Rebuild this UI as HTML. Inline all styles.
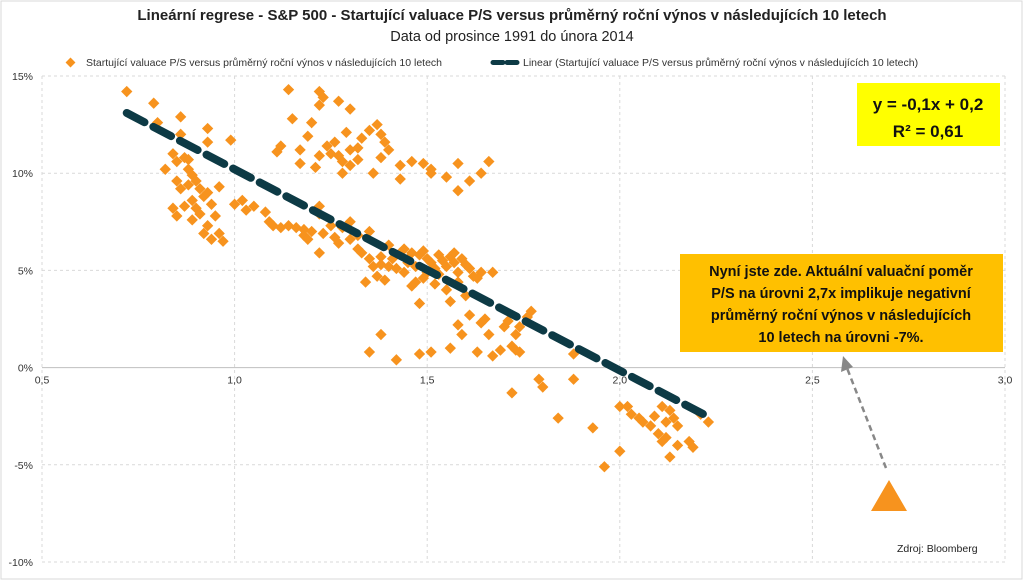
<!DOCTYPE html>
<html><head><meta charset="utf-8">
<style>
body{margin:0;background:#fff;width:1023px;height:580px;overflow:hidden;font-family:"Liberation Sans",sans-serif;}
svg text{font-family:"Liberation Sans","DejaVu Sans",sans-serif;}
</style></head>
<body>
<svg id="chart" width="1023" height="580" xmlns="http://www.w3.org/2000/svg">
<rect x="1" y="1" width="1021" height="578" fill="#fff" stroke="#d9d9d9"/>
<text x="512" y="20" text-anchor="middle" font-size="15" font-weight="bold" fill="#222">Lineární regrese - S&amp;P 500 - Startující valuace P/S versus průměrný roční výnos v následujících 10 letech</text>
<text x="512" y="41" text-anchor="middle" font-size="14.5" fill="#222">Data od prosince 1991 do února 2014</text>
<g>
<g>
<rect x="67" y="59" width="7" height="7" fill="#f7931e" transform="rotate(45 70.5 62.5)"/>
<text x="86" y="66" font-size="10.5" fill="#333">Startující valuace P/S versus průměrný roční výnos v následujících 10 letech</text>
</g>
<g>
<line x1="493" y1="62.5" x2="521" y2="62.5" stroke="#0d3a45" stroke-width="5" stroke-dasharray="10,4" stroke-linecap="round"/>
<text x="523" y="66" font-size="10.5" fill="#333">Linear (Startující valuace P/S versus průměrný roční výnos v následujících 10 letech)</text>
</g>
</g>
<g id="grid"></g>
<g id="axes"></g>
<g id="points"></g>
<g id="trend"></g>
<g>
<rect x="857" y="83" width="143" height="63" fill="#ffff00"/>
<text x="928" y="110" text-anchor="middle" font-size="17" font-weight="bold" fill="#111">y = -0,1x + 0,2</text>
<text x="928" y="137" text-anchor="middle" font-size="17" font-weight="bold" fill="#111">R² = 0,61</text>
</g>
<g>
<rect x="680" y="254" width="323" height="98" fill="#ffc000"/>
<text x="841" y="276" text-anchor="middle" font-size="14.5" font-weight="bold" fill="#111">Nyní jste zde. Aktuální valuační poměr</text>
<text x="841" y="298" text-anchor="middle" font-size="14.5" font-weight="bold" fill="#111">P/S na úrovni 2,7x implikuje negativní</text>
<text x="841" y="320" text-anchor="middle" font-size="14.5" font-weight="bold" fill="#111">průměrný roční výnos v následujících</text>
<text x="841" y="342" text-anchor="middle" font-size="14.5" font-weight="bold" fill="#111">10 letech na úrovni -7%.</text>
</g>
<g>
<line x1="886" y1="468" x2="847" y2="368" stroke="#888" stroke-width="2.5" stroke-dasharray="6,4"/>
<polygon points="843,356 841,372 853,367" fill="#888"/>
</g>
<polygon points="889,480 871,511 907,511" fill="#f7931e"/>
<text x="897" y="552" font-size="10.5" fill="#222">Zdroj: Bloomberg</text>
</svg>
<script>
const xTicks=[0.5,1.0,1.5,2.0,2.5,3.0];
const xTickLabels=["0,5","1,0","1,5","2,0","2,5","3,0"];
const yTicks=[15,10,5,0,-5,-10];
const yTickLabels=["15%","10%","5%","0%","-5%","-10%"];
const psX=[0.72,0.79,0.80,0.86,0.86,0.93,0.93,0.99,0.84,0.82,0.85,0.87,0.88,0.89,0.85,0.86,0.88,0.90,0.91,0.92,0.89,0.87,0.90,0.93,0.94,0.85,0.89,0.91,0.93,0.95,0.92,0.94,0.96,0.97,0.84,0.96,0.88,
1.00,1.02,1.03,1.05,1.08,1.09,1.10,1.12,1.14,1.16,1.18,1.18,1.19,1.20,1.22,1.22,1.23,1.25,1.26,1.27,1.28,1.22,1.30,1.32,1.33,1.35,1.36,1.38,1.39,1.34,1.37,1.32,1.35,1.40,1.30,
1.14,1.22,1.23,1.22,1.27,1.30,1.20,1.15,1.37,1.35,1.38,1.40,1.32,1.33,1.29,1.26,1.24,1.25,1.27,1.28,1.30,1.30,1.32,1.28,1.22,1.17,1.11,1.12,1.17,1.21,1.38,1.43,1.46,1.49,1.51,1.55,1.58,1.58,1.61,1.64,1.66,1.43,1.51,1.19,1.36,1.39,
1.41,1.43,1.44,1.45,1.46,1.47,1.48,1.49,1.50,1.51,1.52,1.50,1.49,1.47,1.44,1.42,1.53,1.54,1.55,1.56,1.57,1.58,1.59,1.60,1.61,1.62,1.64,1.63,1.67,1.58,1.52,1.53,1.55,1.56,1.60,1.45,1.40,1.48,1.38,1.57,1.46,
1.35,1.38,1.42,1.51,1.56,1.59,1.63,1.66,1.67,1.71,1.73,1.70,1.74,1.72,1.74,1.73,1.58,1.61,1.64,1.48,1.69,1.65,1.88,1.76,1.77,
1.72,1.79,1.80,1.88,1.84,1.93,1.96,2.00,2.02,2.03,2.00,2.06,2.08,2.09,2.10,2.11,2.12,2.13,2.14,2.15,2.12,2.15,2.18,2.19,2.13,2.21,2.23,2.05,2.11];
const returnY=[14.2,13.6,12.6,12.9,12.0,12.3,11.6,11.7,11.0,10.2,10.6,10.8,10.2,9.9,9.6,9.2,9.4,9.6,9.2,8.8,8.6,8.3,8.2,9.0,8.4,7.8,7.6,7.9,7.3,7.8,6.9,6.6,6.9,6.5,8.2,9.3,10.7,
8.4,8.6,8.1,8.3,8.0,7.5,7.3,7.2,7.3,7.2,7.1,6.8,6.6,7.0,8.3,7.9,6.9,7.3,6.7,6.4,7.2,5.9,6.6,6.1,5.9,5.6,5.2,5.7,4.5,4.4,4.7,6.8,7.0,6.3,7.5,
14.3,14.2,13.9,13.5,13.7,13.3,12.6,12.8,12.5,12.2,12.0,11.2,11.3,11.8,12.1,11.6,11.4,11.0,10.9,10.6,11.2,10.4,10.7,10.0,10.9,11.2,11.1,11.4,10.5,10.3,10.8,10.4,10.6,10.5,10.2,9.8,10.5,9.1,9.6,10.0,10.6,9.7,10.0,11.9,10.0,11.6,
5.6,5.9,6.1,5.6,5.9,5.2,5.8,6.0,5.6,5.4,5.1,4.9,4.6,4.4,4.9,5.1,5.8,5.5,5.2,5.7,5.4,4.9,5.6,5.3,5.1,4.7,4.9,4.6,4.9,4.4,4.3,4.8,4.0,3.4,3.7,5.4,5.2,3.3,5.3,5.9,4.2,
0.8,1.7,0.4,0.8,1.0,1.7,0.8,1.7,0.6,2.4,1.7,2.1,2.1,1.1,0.8,0.9,2.2,2.7,2.3,0.7,0.9,2.5,0.7,2.6,2.9,
-1.3,-0.6,-1.0,-0.6,-2.6,-3.1,-5.1,-2.0,-2.0,-2.4,-4.3,-2.8,-3.0,-2.5,-3.4,-2.0,-2.8,-2.2,-2.6,-3.0,-3.6,-4.0,-3.8,-4.1,-4.6,-2.4,-2.8,-2.6,-3.8];
const trendX=[0.72,2.23];
const trendSlope=-10.35, trendIntercept=20.55; // in %
const X0=42,X1=1005,Y0=76,Y1=562;
const xs=v=>X0+(v-0.5)/2.5*(X1-X0);
const ys=v=>Y0+(15-v)/25*(Y1-Y0);
const NS="http://www.w3.org/2000/svg";
function mk(t,a,p){const e=document.createElementNS(NS,t);for(const k in a)e.setAttribute(k,a[k]);p.appendChild(e);return e;}
const grid=document.getElementById('grid'),axes=document.getElementById('axes'),pts=document.getElementById('points'),tr=document.getElementById('trend');
yTicks.forEach((v,i)=>{
 const l=mk('line',{x1:X0,x2:X1,y1:ys(v),y2:ys(v),stroke:v===0?'#bfbfbf':'#d9d9d9','stroke-width':1,'stroke-dasharray':v===0?'':'3,3'},grid);
 
 
 const t=mk('text',{x:X0-9,y:ys(v)+4,'text-anchor':'end','font-size':10.5,fill:'#333'},axes);
 t.textContent=yTickLabels[i];
 
 
});
xTicks.forEach((v,i)=>{
 const l=mk('line',{x1:xs(v),x2:xs(v),y1:Y0,y2:Y1,stroke:'#d9d9d9','stroke-width':1,'stroke-dasharray':'3,3'},grid);
 
 
 const t=mk('text',{x:xs(v),y:ys(0)+16,'text-anchor':'middle','font-size':10.5,fill:'#333'},axes);
 t.textContent=xTickLabels[i];
 
 
});
psX.forEach((x,i)=>{
 const cx=xs(x),cy=ys(returnY[i]);
 const r=mk('rect',{x:cx-4,y:cy-4,width:8,height:8,fill:'#f7931e',transform:`rotate(45 ${cx} ${cy})`},pts);
 
 
});
const tl=mk('line',{x1:xs(trendX[0]),y1:ys(trendSlope*trendX[0]+trendIntercept),x2:xs(trendX[1]),y2:ys(trendSlope*trendX[1]+trendIntercept),stroke:'#0d3a45','stroke-width':8,'stroke-dasharray':'20,10','stroke-linecap':'round'},tr);


</script>
</body></html>
